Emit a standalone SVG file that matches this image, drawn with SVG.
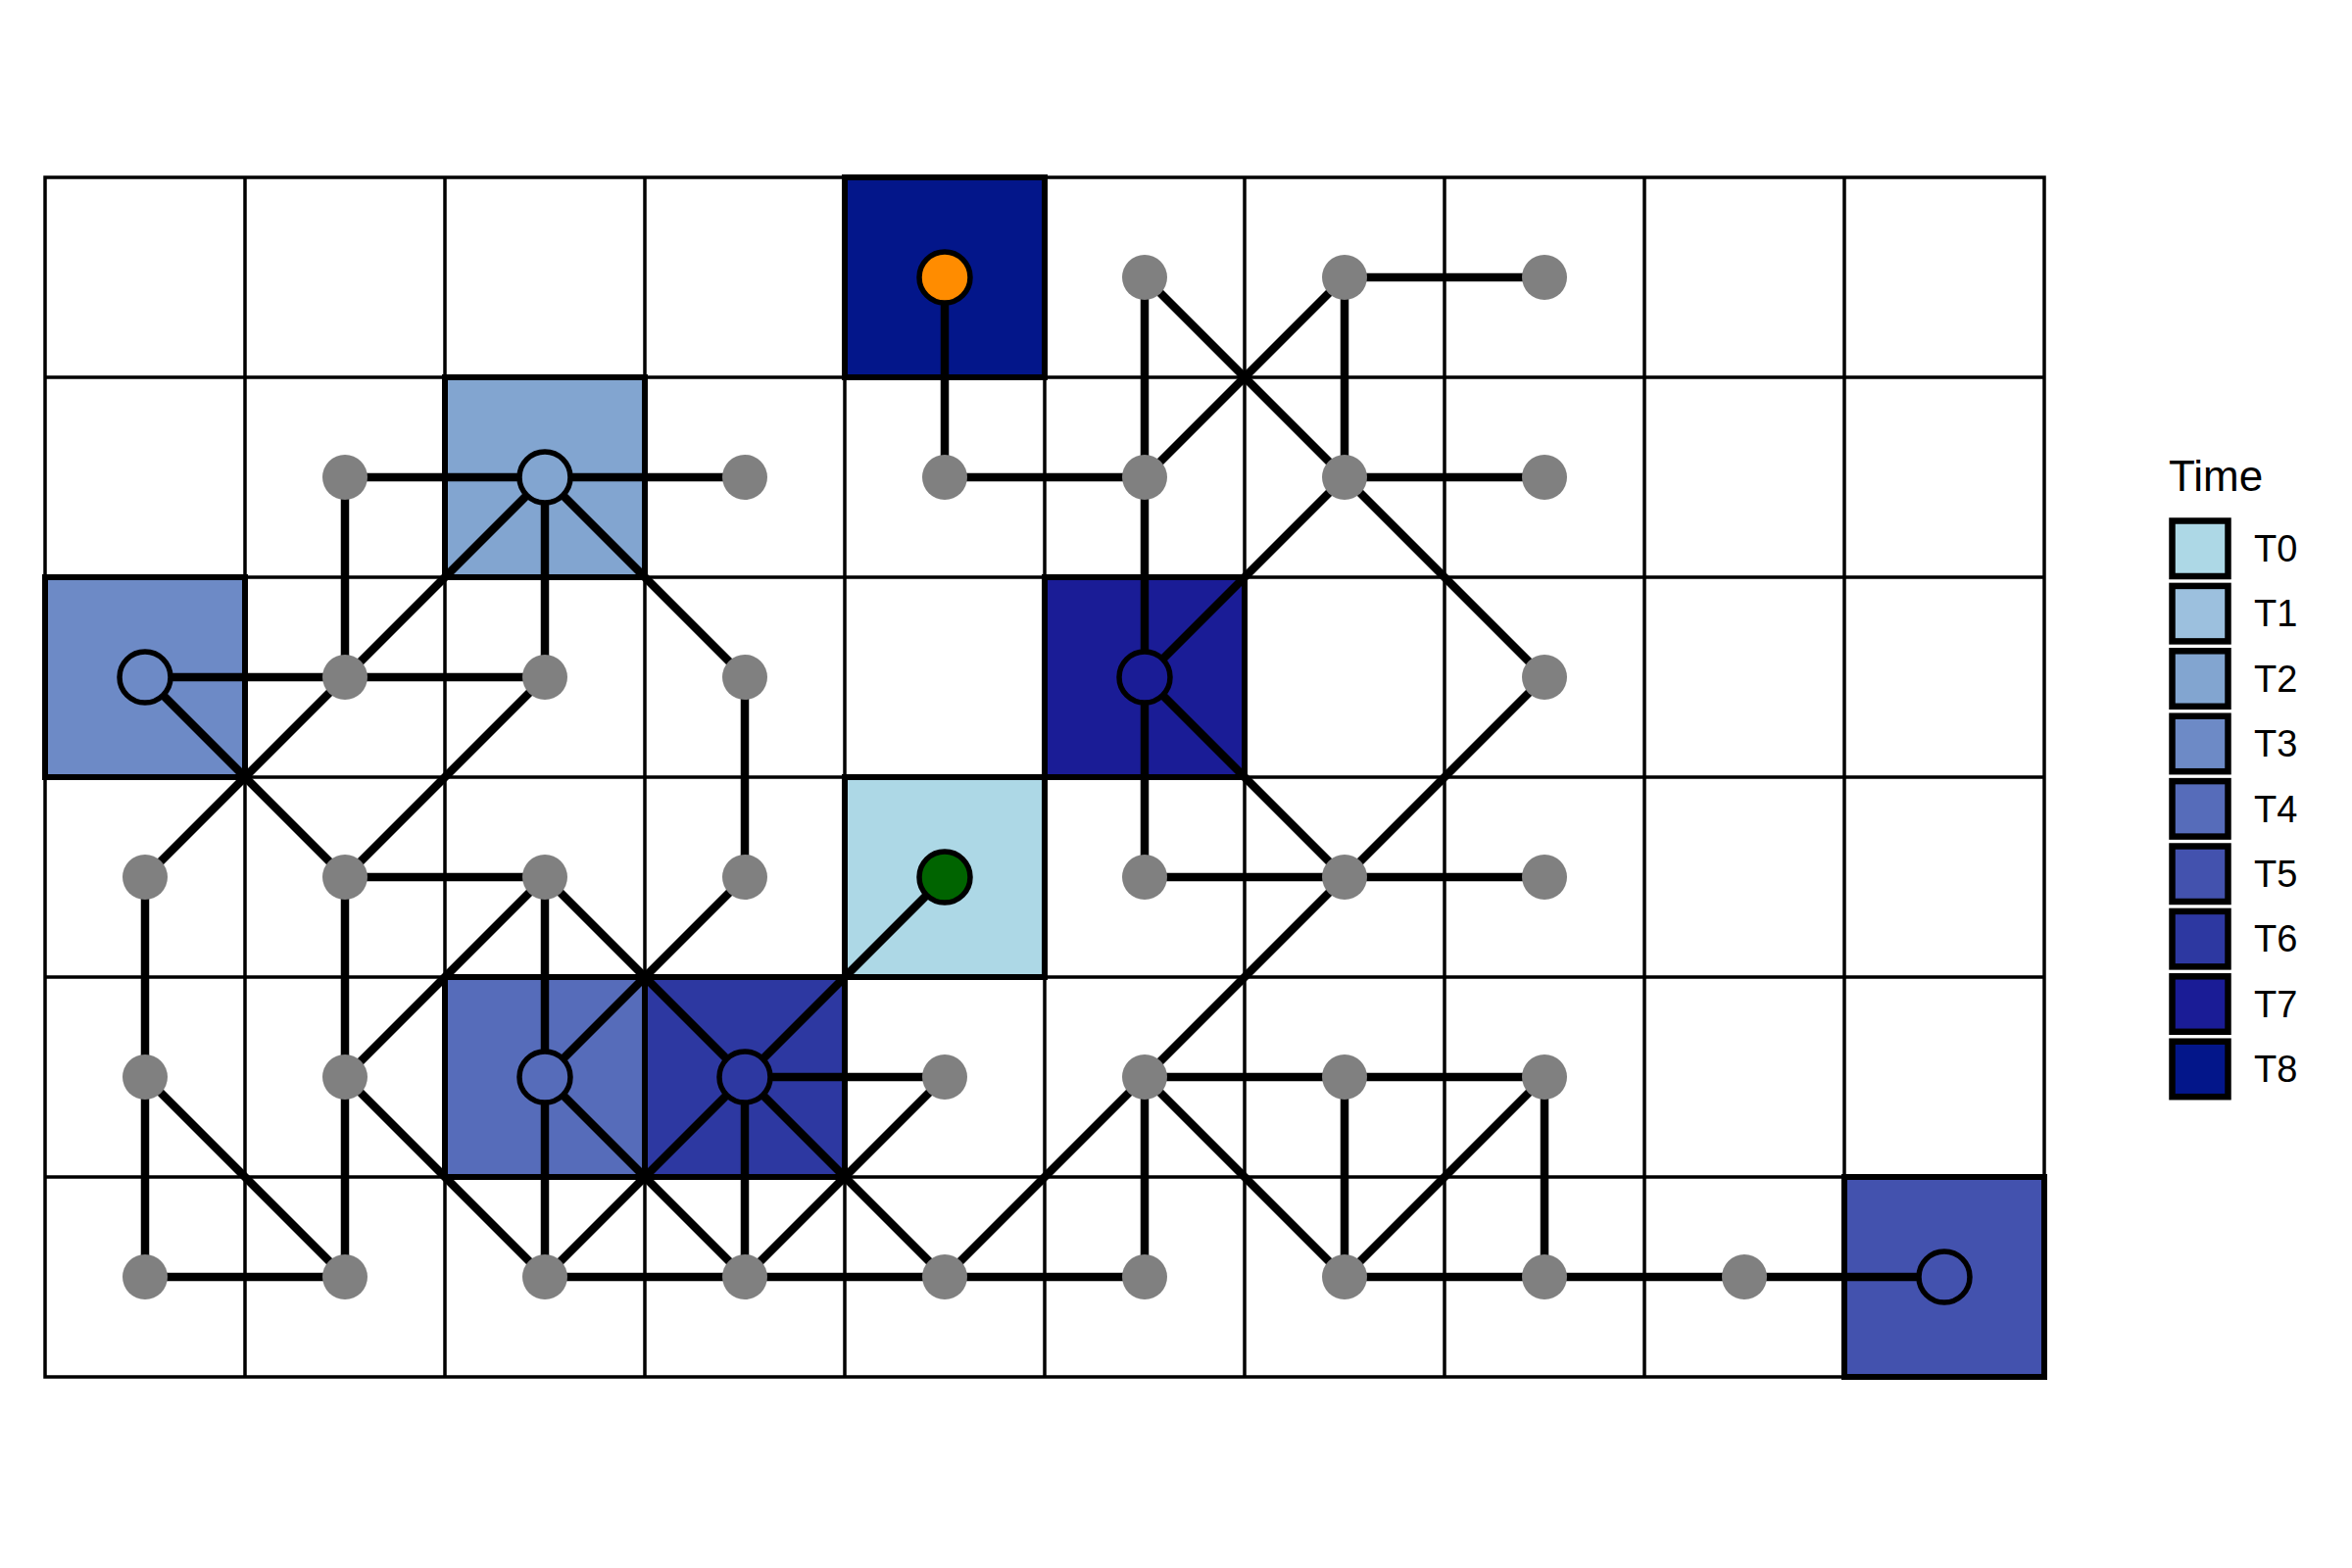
<svg xmlns="http://www.w3.org/2000/svg" width="2400" height="1600" viewBox="0 0 2400 1600">
<style>
.grid{stroke:#000;stroke-width:3.5;fill:none}
.cell{stroke:#000;stroke-width:6}
.e{stroke:#000;stroke-width:8.5;stroke-linecap:butt}
.g{fill:#808080}
.c{stroke:#000;stroke-width:5.5}
.lg{stroke:#000;stroke-width:6.5}
.t{font-family:"Liberation Sans",Arial,sans-serif;fill:#000}
.t0{fill:#ADD8E6}.t1{fill:#9CC0DE}.t2{fill:#82A5D0}.t3{fill:#6D8AC6}.t4{fill:#566CBA}.t5{fill:#4352AE}.t6{fill:#2D38A1}.t7{fill:#1A1C96}.t8{fill:#03168A}
</style>
<rect x="0" y="0" width="2400" height="1600" fill="#fff"/>
<g id="grid" class="grid">
<rect x="46" y="181" width="2040" height="1224"/>
<path d="M250 181V1405M454 181V1405M658 181V1405M862 181V1405M1066 181V1405M1270 181V1405M1474 181V1405M1678 181V1405M1882 181V1405M46 385H2086M46 589H2086M46 793H2086M46 997H2086M46 1201H2086"/>
</g>
<g id="cells">
<rect class="cell t8" x="862" y="181" width="204" height="204"/>
<rect class="cell t2" x="454" y="385" width="204" height="204"/>
<rect class="cell t3" x="46" y="589" width="204" height="204"/>
<rect class="cell t7" x="1066" y="589" width="204" height="204"/>
<rect class="cell t0" x="862" y="793" width="204" height="204"/>
<rect class="cell t4" x="454" y="997" width="204" height="204"/>
<rect class="cell t6" x="658" y="997" width="204" height="204"/>
<rect class="cell t5" x="1882" y="1201" width="204" height="204"/>
</g>
<g id="connectors" class="e">
<line x1="964" y1="283" x2="964" y2="487"/>
<line x1="1168" y1="283" x2="1168" y2="487"/>
<line x1="1168" y1="283" x2="1372" y2="487"/>
<line x1="1372" y1="283" x2="1168" y2="487"/>
<line x1="1372" y1="283" x2="1576" y2="283"/>
<line x1="1372" y1="283" x2="1372" y2="487"/>
<line x1="352" y1="487" x2="556" y2="487"/>
<line x1="556" y1="487" x2="760" y2="487"/>
<line x1="352" y1="487" x2="352" y2="691"/>
<line x1="556" y1="487" x2="556" y2="691"/>
<line x1="556" y1="487" x2="352" y2="691"/>
<line x1="556" y1="487" x2="760" y2="691"/>
<line x1="964" y1="487" x2="1168" y2="487"/>
<line x1="1168" y1="487" x2="1168" y2="691"/>
<line x1="1372" y1="487" x2="1576" y2="487"/>
<line x1="1372" y1="487" x2="1168" y2="691"/>
<line x1="1372" y1="487" x2="1576" y2="691"/>
<line x1="148" y1="691" x2="352" y2="691"/>
<line x1="352" y1="691" x2="556" y2="691"/>
<line x1="148" y1="691" x2="352" y2="895"/>
<line x1="352" y1="691" x2="148" y2="895"/>
<line x1="556" y1="691" x2="352" y2="895"/>
<line x1="760" y1="691" x2="760" y2="895"/>
<line x1="1168" y1="691" x2="1168" y2="895"/>
<line x1="1168" y1="691" x2="1372" y2="895"/>
<line x1="1576" y1="691" x2="1372" y2="895"/>
<line x1="148" y1="895" x2="148" y2="1099"/>
<line x1="352" y1="895" x2="556" y2="895"/>
<line x1="352" y1="895" x2="352" y2="1099"/>
<line x1="556" y1="895" x2="556" y2="1099"/>
<line x1="556" y1="895" x2="352" y2="1099"/>
<line x1="556" y1="895" x2="760" y2="1099"/>
<line x1="760" y1="895" x2="556" y2="1099"/>
<line x1="964" y1="895" x2="760" y2="1099"/>
<line x1="1168" y1="895" x2="1372" y2="895"/>
<line x1="1372" y1="895" x2="1576" y2="895"/>
<line x1="1372" y1="895" x2="1168" y2="1099"/>
<line x1="148" y1="1099" x2="148" y2="1303"/>
<line x1="148" y1="1099" x2="352" y2="1303"/>
<line x1="352" y1="1099" x2="352" y2="1303"/>
<line x1="352" y1="1099" x2="556" y2="1303"/>
<line x1="556" y1="1099" x2="556" y2="1303"/>
<line x1="556" y1="1099" x2="760" y2="1303"/>
<line x1="760" y1="1099" x2="556" y2="1303"/>
<line x1="760" y1="1099" x2="964" y2="1099"/>
<line x1="760" y1="1099" x2="760" y2="1303"/>
<line x1="760" y1="1099" x2="964" y2="1303"/>
<line x1="964" y1="1099" x2="760" y2="1303"/>
<line x1="1168" y1="1099" x2="1372" y2="1099"/>
<line x1="1372" y1="1099" x2="1576" y2="1099"/>
<line x1="1168" y1="1099" x2="964" y2="1303"/>
<line x1="1168" y1="1099" x2="1168" y2="1303"/>
<line x1="1168" y1="1099" x2="1372" y2="1303"/>
<line x1="1372" y1="1099" x2="1372" y2="1303"/>
<line x1="1576" y1="1099" x2="1372" y2="1303"/>
<line x1="1576" y1="1099" x2="1576" y2="1303"/>
<line x1="148" y1="1303" x2="352" y2="1303"/>
<line x1="556" y1="1303" x2="760" y2="1303"/>
<line x1="760" y1="1303" x2="964" y2="1303"/>
<line x1="964" y1="1303" x2="1168" y2="1303"/>
<line x1="1372" y1="1303" x2="1576" y2="1303"/>
<line x1="1576" y1="1303" x2="1780" y2="1303"/>
<line x1="1780" y1="1303" x2="1984" y2="1303"/>
</g>
<g id="nodes">
<g id="n4_0"><circle class="c" cx="964" cy="283" r="26" fill="#FF8C00"/></g>
<g id="n5_0"><circle class="g" cx="1168" cy="283" r="23"/></g>
<g id="n6_0"><circle class="g" cx="1372" cy="283" r="23"/></g>
<g id="n7_0"><circle class="g" cx="1576" cy="283" r="23"/></g>
<g id="n1_1"><circle class="g" cx="352" cy="487" r="23"/></g>
<g id="n2_1"><circle class="c t2" cx="556" cy="487" r="26"/></g>
<g id="n3_1"><circle class="g" cx="760" cy="487" r="23"/></g>
<g id="n4_1"><circle class="g" cx="964" cy="487" r="23"/></g>
<g id="n5_1"><circle class="g" cx="1168" cy="487" r="23"/></g>
<g id="n6_1"><circle class="g" cx="1372" cy="487" r="23"/></g>
<g id="n7_1"><circle class="g" cx="1576" cy="487" r="23"/></g>
<g id="n0_2"><circle class="c t3" cx="148" cy="691" r="26"/></g>
<g id="n1_2"><circle class="g" cx="352" cy="691" r="23"/></g>
<g id="n2_2"><circle class="g" cx="556" cy="691" r="23"/></g>
<g id="n3_2"><circle class="g" cx="760" cy="691" r="23"/></g>
<g id="n5_2"><circle class="c t7" cx="1168" cy="691" r="26"/></g>
<g id="n7_2"><circle class="g" cx="1576" cy="691" r="23"/></g>
<g id="n0_3"><circle class="g" cx="148" cy="895" r="23"/></g>
<g id="n1_3"><circle class="g" cx="352" cy="895" r="23"/></g>
<g id="n2_3"><circle class="g" cx="556" cy="895" r="23"/></g>
<g id="n3_3"><circle class="g" cx="760" cy="895" r="23"/></g>
<g id="n4_3"><circle class="c" cx="964" cy="895" r="26" fill="#006400"/></g>
<g id="n5_3"><circle class="g" cx="1168" cy="895" r="23"/></g>
<g id="n6_3"><circle class="g" cx="1372" cy="895" r="23"/></g>
<g id="n7_3"><circle class="g" cx="1576" cy="895" r="23"/></g>
<g id="n0_4"><circle class="g" cx="148" cy="1099" r="23"/></g>
<g id="n1_4"><circle class="g" cx="352" cy="1099" r="23"/></g>
<g id="n2_4"><circle class="c t4" cx="556" cy="1099" r="26"/></g>
<g id="n3_4"><circle class="c t6" cx="760" cy="1099" r="26"/></g>
<g id="n4_4"><circle class="g" cx="964" cy="1099" r="23"/></g>
<g id="n5_4"><circle class="g" cx="1168" cy="1099" r="23"/></g>
<g id="n6_4"><circle class="g" cx="1372" cy="1099" r="23"/></g>
<g id="n7_4"><circle class="g" cx="1576" cy="1099" r="23"/></g>
<g id="n0_5"><circle class="g" cx="148" cy="1303" r="23"/></g>
<g id="n1_5"><circle class="g" cx="352" cy="1303" r="23"/></g>
<g id="n2_5"><circle class="g" cx="556" cy="1303" r="23"/></g>
<g id="n3_5"><circle class="g" cx="760" cy="1303" r="23"/></g>
<g id="n4_5"><circle class="g" cx="964" cy="1303" r="23"/></g>
<g id="n5_5"><circle class="g" cx="1168" cy="1303" r="23"/></g>
<g id="n6_5"><circle class="g" cx="1372" cy="1303" r="23"/></g>
<g id="n7_5"><circle class="g" cx="1576" cy="1303" r="23"/></g>
<g id="n8_5"><circle class="g" cx="1780" cy="1303" r="23"/></g>
<g id="n9_5"><circle class="c t5" cx="1984" cy="1303" r="26"/></g>
</g>
<g id="legend">
<text class="t" x="2213" y="501" font-size="44">Time</text>
<rect class="lg t0" x="2216.5" y="531.5" width="57" height="56.5"/>
<rect class="lg t1" x="2216.5" y="597.9" width="57" height="56.5"/>
<rect class="lg t2" x="2216.5" y="664.3" width="57" height="56.5"/>
<rect class="lg t3" x="2216.5" y="730.7" width="57" height="56.5"/>
<rect class="lg t4" x="2216.5" y="797.1" width="57" height="56.5"/>
<rect class="lg t5" x="2216.5" y="863.5" width="57" height="56.5"/>
<rect class="lg t6" x="2216.5" y="929.9" width="57" height="56.5"/>
<rect class="lg t7" x="2216.5" y="996.3" width="57" height="56.5"/>
<rect class="lg t8" x="2216.5" y="1062.7" width="57" height="56.5"/>
<g class="t" font-size="38">
<text x="2300" y="573">T0</text>
<text x="2300" y="639.4">T1</text>
<text x="2300" y="705.8">T2</text>
<text x="2300" y="772.2">T3</text>
<text x="2300" y="838.6">T4</text>
<text x="2300" y="905">T5</text>
<text x="2300" y="971.4">T6</text>
<text x="2300" y="1037.8">T7</text>
<text x="2300" y="1104.2">T8</text>
</g>
</g>
</svg>
